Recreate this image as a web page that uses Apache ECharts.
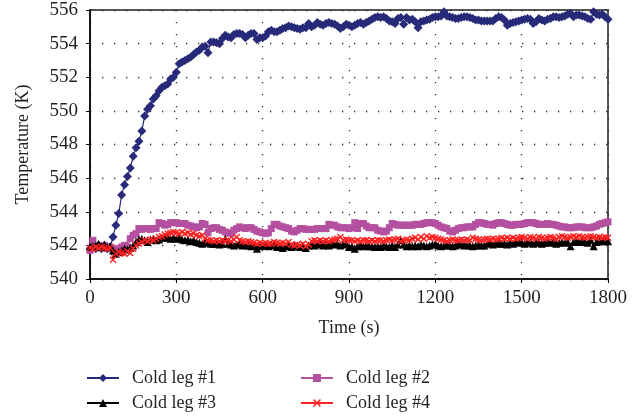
<!DOCTYPE html>
<html>
<head>
<meta charset="utf-8">
<script src="https://cdn.jsdelivr.net/npm/echarts@6/dist/echarts.min.js"></script>
<style>
  html, body { margin: 0; padding: 0; background: #fff; }
  #chart { width: 640px; height: 416px; }
</style>
</head>
<body>
<div id="chart"></div>
<script>
// time (s), sampled every 10 s
const timeSec = [
  0, 10, 20, 30, 40, 50, 60, 70, 80, 90,
  100, 110, 120, 130, 140, 150, 160, 170, 180, 190,
  200, 210, 220, 230, 240, 250, 260, 270, 280, 290,
  300, 310, 320, 330, 340, 350, 360, 370, 380, 390,
  400, 410, 420, 430, 440, 450, 460, 470, 480, 490,
  500, 510, 520, 530, 540, 550, 560, 570, 580, 590,
  600, 610, 620, 630, 640, 650, 660, 670, 680, 690,
  700, 710, 720, 730, 740, 750, 760, 770, 780, 790,
  800, 810, 820, 830, 840, 850, 860, 870, 880, 890,
  900, 910, 920, 930, 940, 950, 960, 970, 980, 990,
  1000, 1010, 1020, 1030, 1040, 1050, 1060, 1070, 1080, 1090,
  1100, 1110, 1120, 1130, 1140, 1150, 1160, 1170, 1180, 1190,
  1200, 1210, 1220, 1230, 1240, 1250, 1260, 1270, 1280, 1290,
  1300, 1310, 1320, 1330, 1340, 1350, 1360, 1370, 1380, 1390,
  1400, 1410, 1420, 1430, 1440, 1450, 1460, 1470, 1480, 1490,
  1500, 1510, 1520, 1530, 1540, 1550, 1560, 1570, 1580, 1590,
  1600, 1610, 1620, 1630, 1640, 1650, 1660, 1670, 1680, 1690,
  1700, 1710, 1720, 1730, 1740, 1750, 1760, 1770, 1780, 1790,
  1800,
];

const coldLeg1 = [
  541.8, 541.9, 541.8, 541.9, 541.8, 541.9, 541.8, 541.9, 542.5, 543.2,
  543.9, 545.0, 545.6, 546.1, 546.6, 547.3, 547.8, 548.2, 548.8, 549.7,
  550.1, 550.3, 550.7, 550.9, 551.2, 551.4, 551.5, 551.6, 551.9, 552.0,
  552.3, 552.8, 552.9, 553.0, 553.1, 553.2, 553.35, 553.5, 553.6, 553.8,
  553.85, 553.45, 554.1, 554.1, 554.05, 554.0, 554.3, 554.5, 554.4, 554.35,
  554.55, 554.6, 554.6, 554.55, 554.35, 554.5, 554.6, 554.6, 554.25, 554.35,
  554.35, 554.45, 554.7, 554.8, 554.7, 554.7, 554.8, 554.9, 554.95, 555.05,
  555.0, 554.95, 554.9, 554.85, 554.95, 554.95, 555.2, 555.0, 555.1, 555.25,
  555.15, 555.1, 555.2, 555.25, 555.2, 555.15, 555.05, 554.9, 555.0, 555.15,
  555.1, 555.0, 555.1, 555.2, 555.25, 555.15, 555.25, 555.35, 555.45, 555.55,
  555.6, 555.55, 555.6, 555.5, 555.35, 555.3, 555.2, 555.5, 555.55, 555.15,
  555.55, 555.4, 555.45, 555.3, 554.95, 555.3, 555.35, 555.4, 555.45, 555.55,
  555.6, 555.6, 555.65, 555.9, 555.65, 555.6, 555.55, 555.5, 555.5, 555.55,
  555.6, 555.6, 555.55, 555.5, 555.4, 555.4, 555.35, 555.35, 555.35, 555.35,
  555.35, 555.5, 555.6, 555.55, 555.4, 555.1, 555.2, 555.25, 555.3, 555.35,
  555.4, 555.45, 555.5, 555.45, 555.2, 555.3, 555.5, 555.4, 555.35, 555.45,
  555.5, 555.6, 555.6, 555.55, 555.6, 555.65, 555.75, 555.8, 555.6, 555.7,
  555.7, 555.65, 555.6, 555.5, 555.45, 555.9, 555.75, 555.7, 555.75, 555.6,
  555.45,
];

const coldLeg2 = [
  541.7, 542.3, 542.0, 542.0, 541.95, 542.0, 541.9, 541.9, 541.8, 541.7,
  541.8, 541.9, 542.0, 541.9, 542.4, 542.6, 542.7, 543.0, 542.95, 543.0,
  543.0, 542.95, 543.0, 543.0, 543.35, 543.3, 543.2, 543.25, 543.35, 543.35,
  543.35, 543.3, 543.3, 543.3, 543.2, 543.15, 543.1, 543.05, 543.1, 543.3,
  543.25, 542.75, 543.0, 543.05, 543.05, 542.95, 542.9, 542.8, 542.75, 542.7,
  542.9, 543.0, 543.1, 543.05, 543.0, 543.05, 543.05, 542.95, 542.85, 542.8,
  542.75, 542.7, 542.75, 543.0, 543.25, 543.25, 543.15, 543.1, 543.05, 543.0,
  542.85, 542.8, 542.9, 543.0, 543.0, 542.95, 542.95, 542.95, 542.95, 543.0,
  543.0, 543.0, 543.0, 543.25, 543.2, 543.2, 543.1, 543.05, 543.05, 543.05,
  543.0, 543.05, 543.35, 543.0, 543.3, 543.3, 543.15, 543.05, 543.05, 543.05,
  542.9, 542.85, 542.8, 542.85, 543.05, 543.3, 543.25, 543.2, 543.2, 543.2,
  543.2, 543.2, 543.2, 543.25, 543.25, 543.25, 543.3, 543.35, 543.35, 543.35,
  543.3, 543.2, 543.1, 543.05, 543.0, 542.85, 542.8, 542.9, 543.0, 543.05,
  543.05, 543.1, 543.1, 543.1, 543.25, 543.35, 543.35, 543.3, 543.25, 543.25,
  543.2, 543.3, 543.35, 543.35, 543.3, 543.25, 543.2, 543.2, 543.25, 543.25,
  543.25, 543.3, 543.35, 543.35, 543.35, 543.3, 543.25, 543.25, 543.25, 543.3,
  543.25, 543.25, 543.2, 543.15, 543.1, 543.1, 543.05, 543.05, 543.05, 543.1,
  543.1, 543.1, 543.05, 543.05, 543.05, 543.1, 543.15, 543.25, 543.3, 543.35,
  543.4,
];

const coldLeg3 = [
  541.9, 541.95, 542.0, 542.1, 541.9, 542.05, 541.9, 541.95, 541.7, 541.5,
  541.6, 541.7, 541.8, 541.75, 541.85, 542.0, 542.2, 542.35, 542.4, 542.3,
  542.2, 542.35, 542.4, 542.3, 542.35, 542.45, 542.5, 542.45, 542.4, 542.45,
  542.4, 542.45, 542.35, 542.3, 542.35, 542.25, 542.3, 542.2, 542.15, 542.1,
  542.2, 542.15, 542.1, 542.1, 542.1, 542.05, 542.1, 542.4, 542.1, 542.05,
  542.0, 542.05, 542.1, 542.0, 542.05, 542.0, 541.95, 542.0, 541.8, 541.95,
  542.0, 542.0, 541.95, 542.05, 542.0, 541.9, 542.0, 541.85, 541.95, 542.0,
  541.9, 541.95, 542.0, 541.9, 542.0, 541.85, 542.0, 542.1, 542.0, 542.05,
  542.1, 542.0, 542.05, 542.0, 542.1, 542.05, 542.1, 542.0, 542.05, 542.1,
  541.9, 541.95, 541.8, 541.95, 542.0, 541.95, 542.0, 541.95, 541.95, 541.9,
  541.95, 541.9, 542.0, 541.95, 541.9, 542.0, 541.9, 542.05, 542.3, 542.05,
  541.95, 542.0, 541.95, 542.0, 541.95, 542.05, 542.0, 541.95, 542.0, 542.05,
  542.1, 542.0, 541.95, 542.0, 542.05, 542.0, 541.95, 542.0, 542.1, 542.05,
  542.0, 542.05, 542.0, 541.95, 542.0, 542.05, 542.0, 542.0, 542.1, 542.15,
  542.05, 542.1, 542.15, 542.1, 542.1, 542.05, 542.15, 542.1, 542.2, 542.15,
  542.2, 542.1, 542.15, 542.2, 542.1, 542.15, 542.2, 542.1, 542.15, 542.2,
  542.15, 542.2, 542.1, 542.15, 542.2, 542.15, 542.2, 541.95, 542.2, 542.25,
  542.2, 542.25, 542.2, 542.15, 542.3, 541.95, 542.2, 542.25, 542.25, 542.3,
  542.25,
];

const coldLeg4 = [
  541.85, 541.8, 541.9, 541.85, 541.9, 541.85, 541.8, 541.85, 541.15, 541.5,
  541.6, 541.55, 541.5, 541.65, 541.55, 541.8, 542.0, 542.1, 542.2, 542.3,
  542.25, 542.35, 542.3, 542.4, 542.5, 542.55, 542.65, 542.7, 542.75, 542.8,
  542.75, 542.7, 542.8, 542.7, 542.75, 542.65, 542.7, 542.6, 542.55, 542.6,
  542.4, 542.3, 542.3, 542.25, 542.3, 542.25, 542.3, 542.25, 542.3, 542.25,
  542.35, 542.5, 542.3, 542.25, 542.2, 542.25, 542.2, 542.15, 542.1, 542.15,
  542.1, 542.15, 542.1, 542.1, 542.2, 542.15, 542.1, 542.15, 542.1, 542.2,
  542.05, 542.0, 542.05, 542.0, 542.1, 541.95, 542.05, 542.25, 542.3, 542.25,
  542.3, 542.25, 542.3, 542.25, 542.3, 542.35, 542.4, 542.5, 542.3, 542.35,
  542.3, 542.3, 542.25, 542.3, 542.25, 542.3, 542.3, 542.25, 542.3, 542.25,
  542.3, 542.3, 542.25, 542.3, 542.35, 542.3, 542.35, 542.4, 542.25, 542.3,
  542.35, 542.3, 542.4, 542.45, 542.35, 542.5, 542.4, 542.55, 542.45, 542.5,
  542.45, 542.4, 542.35, 542.3, 542.25, 542.3, 542.35, 542.3, 542.3, 542.35,
  542.3, 542.35, 542.3, 542.45, 542.4, 542.35, 542.3, 542.35, 542.4, 542.35,
  542.4, 542.35, 542.4, 542.45, 542.4, 542.45, 542.4, 542.45, 542.4, 542.45,
  542.5, 542.45, 542.4, 542.5, 542.45, 542.4, 542.5, 542.45, 542.4, 542.45,
  542.5, 542.45, 542.4, 542.5, 542.55, 542.5, 542.45, 542.5, 542.55, 542.5,
  542.55, 542.5, 542.45, 542.5, 542.55, 542.5, 542.45, 542.5, 542.45, 542.5,
  542.45,
];

const seriesNames = ['Cold leg #1', 'Cold leg #2', 'Cold leg #3', 'Cold leg #4'];
const seriesValues = [coldLeg1, coldLeg2, coldLeg3, coldLeg4];

const FONT = '"Liberation Serif", "DejaVu Serif", serif';
const TEXT_COLOR = '#231f20';
const COLORS = ['#262a78', '#b4509f', '#000000', '#ff2222'];
// filled "x" shape, echarts has no built-in cross symbol
const CROSS = 'path://M0,1.4L1.4,0L5,3.6L8.6,0L10,1.4L6.4,5L10,8.6L8.6,10L5,6.4L1.4,10L0,8.6L3.6,5Z';
const SYMBOLS = ['diamond', 'rect', 'triangle', CROSS];
const SYMBOL_SIZES = [9, 7, 8, 7];

const chart = echarts.init(document.getElementById('chart'), null, { renderer: 'canvas' });

const dottedGrid = {
  show: true,
  lineStyle: { color: '#333', width: 1.3, type: [1.3, 10.7] },
};

const series = seriesNames.map((name, i) => ({
  name,
  type: 'line',
  data: timeSec.map((t, k) => [t, seriesValues[i][k]]),
  symbol: SYMBOLS[i],
  symbolSize: SYMBOL_SIZES[i],
  showAllSymbol: true,
  lineStyle: { color: COLORS[i], width: 1.2 },
  itemStyle: { color: COLORS[i] },
  emphasis: { disabled: true },
  animation: false,
}));

// 2 x 2 legend, one legend block per entry
const legendPos = [
  { left: 86, top: 369 },
  { left: 300, top: 369 },
  { left: 86, top: 394 },
  { left: 300, top: 394 },
];
const legends = seriesNames.map((name, i) => ({
  data: [name],
  left: legendPos[i].left,
  top: legendPos[i].top,
  padding: 0,
  itemWidth: 32,
  itemHeight: 10,
  selectedMode: false,
  textStyle: {
    fontFamily: FONT,
    fontSize: 18,
    color: TEXT_COLOR,
    padding: [0, 0, 0, 8],
  },
}));

const option = {
  backgroundColor: '#fff',
  animation: false,
  grid: {
    left: 90,
    right: 32,
    top: 10,
    bottom: 137,
    show: true,
    borderColor: '#555',
    borderWidth: 2,
  },
  xAxis: {
    type: 'value',
    min: 0,
    max: 1800,
    interval: 300,
    name: 'Time (s)',
    nameLocation: 'middle',
    nameGap: 40,
    nameTextStyle: { fontFamily: FONT, fontSize: 18, color: TEXT_COLOR },
    axisLine: { show: true, lineStyle: { color: '#000', width: 1.5 } },
    axisTick: { show: true, length: 4, lineStyle: { color: '#000' } },
    axisLabel: {
      fontFamily: FONT,
      fontSize: 19,
      color: TEXT_COLOR,
      margin: 10,
      formatter: (v) => String(v),
    },
    splitLine: dottedGrid,
  },
  yAxis: {
    type: 'value',
    min: 540,
    max: 556,
    interval: 2,
    name: 'Temperature (K)',
    nameLocation: 'middle',
    nameGap: 58,
    nameTextStyle: { fontFamily: FONT, fontSize: 18, color: TEXT_COLOR },
    axisLine: { show: true, lineStyle: { color: '#000', width: 1.5 } },
    axisTick: { show: true, length: 4, lineStyle: { color: '#000' } },
    axisLabel: {
      fontFamily: FONT,
      fontSize: 19,
      color: TEXT_COLOR,
      margin: 12,
      formatter: (v) => String(v),
    },
    splitLine: dottedGrid,
  },
  legend: legends,
  series,
};

chart.setOption(option);
</script>
</body>
</html>
